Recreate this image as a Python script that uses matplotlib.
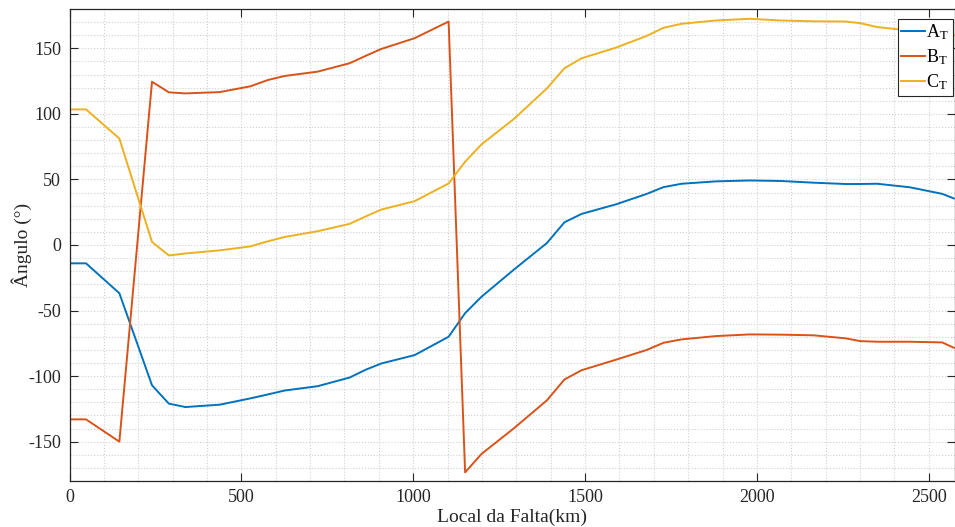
import matplotlib
matplotlib.use("Agg")
import matplotlib.pyplot as plt
from matplotlib.ticker import MultipleLocator

plt.rcParams['font.family'] = ['Liberation Serif', 'DejaVu Serif']
plt.rcParams['mathtext.fontset'] = 'custom'
plt.rcParams['mathtext.rm'] = 'Liberation Serif'
plt.rcParams['mathtext.it'] = 'Liberation Serif:italic'
plt.rcParams['axes.unicode_minus'] = False

x_km = [0, 48, 145, 240, 289, 337, 437, 526, 577, 626, 722, 815, 863, 907, 1004,
        1103, 1151, 1199, 1292, 1389, 1440, 1490, 1590, 1680, 1728, 1781, 1880,
        1980, 2070, 2165, 2258, 2300, 2350, 2445, 2539, 2573]

a_t = [-14, -14, -36.8, -107, -121, -123.6, -121.8, -117, -114, -111, -107.7,
       -101.1, -95, -90.4, -84, -70, -52, -39.4, -19, 1.5, 17.3, 23.7, 31, 39,
       44.1, 46.7, 48.5, 49.2, 48.8, 47.5, 46.5, 46.5, 46.7, 44, 39, 35.5]

b_t = [-133, -133, -150, 124.5, 116.4, 115.6, 116.6, 121, 125.8, 128.9, 132.2,
       138.6, 144.4, 149.5, 157.7, 170.4, -173.4, -159.3, -140, -118.5, -102.6,
       -95.5, -87.5, -80, -74.6, -72, -69.5, -68.2, -68.4, -68.9, -71.2, -73.3,
       -73.8, -73.8, -74.3, -78.4]

c_t = [103.4, 103.4, 81.2, 2.3, -8, -6.5, -4.1, -1.1, 2.8, 6.1, 10.5, 16.1,
       21.9, 27, 33.4, 46.9, 63.5, 76.8, 95.9, 119.4, 134.8, 142.4, 150.5, 159.5,
       165.6, 168.7, 171.2, 172.5, 171.2, 170.6, 170.4, 169.2, 166.2, 163.5, 162,
       160]

labels = ['A$_{\\mathrm{T}}$', 'B$_{\\mathrm{T}}$', 'C$_{\\mathrm{T}}$']
colors = ['#0072BD', '#D95319', '#EDB120']

fig = plt.figure(figsize=(9.55, 5.27), dpi=100)
ax = fig.add_axes([0.0728, 0.0873, 0.9267, 0.8957])

for y, lab, col in zip([a_t, b_t, c_t], labels, colors):
    ax.plot(x_km, y, color=col, lw=1.4, label=lab)

ax.set_xlim(0, 2575)
ax.set_ylim(-180, 180)
ax.xaxis.set_major_locator(MultipleLocator(500))
ax.xaxis.set_minor_locator(MultipleLocator(100))
ax.yaxis.set_major_locator(MultipleLocator(50))
ax.yaxis.set_minor_locator(MultipleLocator(10))
ax.grid(which='both', color='#d0d0d0', linestyle=':', linewidth=0.8)
ax.set_axisbelow(True)

ax.tick_params(which='major', direction='in', length=6, width=0.8,
               top=True, right=True, labelsize=13, colors='#262626', pad=6)
ax.tick_params(which='minor', length=0, top=True, right=True)
for s in ax.spines.values():
    s.set_color('#262626')
    s.set_linewidth(0.9)

ax.set_xlabel('Local da Falta(km)', fontsize=14, color='#262626', labelpad=2)
ax.set_ylabel('Ângulo (°)', fontsize=14, color='#262626')
ax.yaxis.set_label_coords(-0.042, 0.5)

leg = ax.legend(loc='upper right', fontsize=13, handlelength=1.3,
                handletextpad=0.1, borderpad=0.2, labelspacing=0.3,
                fancybox=False, framealpha=1, borderaxespad=0.1,
                bbox_to_anchor=(1.0, 0.983))
leg.get_frame().set_edgecolor('#262626')
leg.get_frame().set_linewidth(0.8)

fig.savefig('out.png', dpi=100)
